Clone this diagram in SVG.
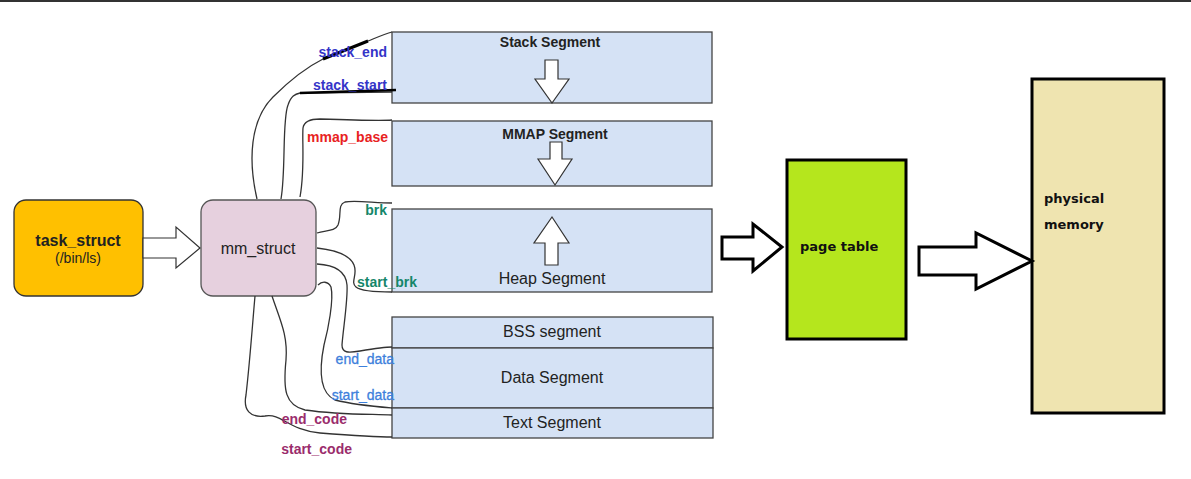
<svg xmlns="http://www.w3.org/2000/svg" width="1191" height="479" viewBox="0 0 1191 479">
<style>
.seg{fill:#d5e2f5;stroke:#444;stroke-width:1.3}
.barrow{fill:#fff;stroke:#333;stroke-width:1.2}
.curve{fill:none;stroke:#333;stroke-width:1.3}
.t{font-family:"Liberation Sans",Arial,sans-serif;fill:#222}
.lbl{font-family:"Liberation Sans",Arial,sans-serif;font-size:14px;text-anchor:end}
.b{font-weight:bold}
.blue{fill:#3434c8}
.red{fill:#e82222}
.teal{fill:#15866a}
.lblue{fill:#3d80dc}
.purple{fill:#9a2c6c}
.bigarrow{fill:#fff;stroke:#000;stroke-width:3}
.v{font-family:"DejaVu Sans",Verdana,sans-serif;font-size:13px;font-weight:bold;fill:#111}
</style>
<rect x="0" y="0" width="1191" height="479" fill="#fff"/>
<line x1="0" y1="1" x2="1191" y2="1" stroke="#333" stroke-width="2"/>

<g id="task_struct">
<rect x="14" y="200" width="129" height="96" rx="12" fill="#ffc000" stroke="#333" stroke-width="1.3"/>
<text class="t b" x="78" y="246" font-size="16" text-anchor="middle">task_struct</text>
<text class="t" x="78" y="263" font-size="14" text-anchor="middle">(/bin/ls)</text>
</g>

<g id="mm_struct">
<rect x="201" y="200" width="115" height="96" rx="12" fill="#e6d0de" stroke="#555" stroke-width="1.3"/>
<text class="t" x="258" y="254" font-size="16" text-anchor="middle">mm_struct</text>
</g>

<g id="stack_segment">
<rect class="seg" x="392" y="32" width="320" height="71"/>
<text class="t b" x="550" y="47" font-size="14" text-anchor="middle">Stack Segment</text>
<polygon class="barrow" points="545,60 558,60 558,79 569,79 552,103 535,79 545,79"/>
</g>

<g id="mmap_segment">
<rect class="seg" x="392" y="121" width="320" height="65"/>
<text class="t b" x="555" y="139" font-size="14" text-anchor="middle">MMAP Segment</text>
<polygon class="barrow" points="550,142 562,142 562,159 572,159 555,185 538,159 550,159"/>
</g>

<g id="heap_segment">
<rect class="seg" x="392" y="209" width="320" height="83"/>
<polygon class="barrow" points="552,217 569,243 558,243 558,265 545,265 545,243 534,243"/>
<text class="t" x="552" y="284" font-size="16" text-anchor="middle">Heap Segment</text>
</g>

<g id="bss_segment">
<rect class="seg" x="392" y="317" width="321" height="31"/>
<text class="t" x="552" y="337" font-size="16" text-anchor="middle">BSS segment</text>
</g>

<g id="data_segment">
<rect class="seg" x="392" y="348" width="321" height="60"/>
<text class="t" x="552" y="383" font-size="16" text-anchor="middle">Data Segment</text>
</g>

<g id="text_segment">
<rect class="seg" x="392" y="408" width="321" height="30"/>
<text class="t" x="552" y="428" font-size="16" text-anchor="middle">Text Segment</text>
</g>

<g id="page_table">
<rect x="787" y="160" width="119" height="179" fill="#b5e61d" stroke="#000" stroke-width="3"/>
<text class="v" x="800" y="251">page table</text>
</g>

<g id="physical_memory">
<rect x="1032" y="79" width="132" height="334" fill="#efe4b0" stroke="#000" stroke-width="3"/>
<text class="v" x="1044" y="203">physical</text>
<text class="v" x="1044" y="229">memory</text>
</g>

<g id="connectors">
<polygon points="143,238 176,238 176,227 200,248 176,268 176,258 143,258" fill="#fff" stroke="#333" stroke-width="1.2"/>
<polygon class="bigarrow" points="722,237 753,237 753,224 782,247 753,271 753,259 722,259"/>
<polygon class="bigarrow" points="919,247 976,247 976,233 1032,261 976,289 976,275 919,275"/>

<path class="curve" d="M257,199 C248,160 250,120 273,97 C290,80 305,68 323,59 L368,41 C378,37 385,34 392,32"/>
<path class="curve" d="M281,199 C286,170 282,120 288,105 C291,96 295,94 300,93 L392,92"/>
<path class="curve" d="M300,197 C305,170 302,140 303,128 C304,121 310,119 320,119 C350,120 380,121 392,120"/>
<path class="curve" d="M317,233 C325,230 335,232 338,225 C342,215 337,205 345,202 C355,200 375,203 392,203"/>
<path class="curve" d="M317,248 C335,250 350,255 354,265 C358,275 350,282 356,287 C362,292 380,292 392,292"/>
<path class="curve" d="M317,264 C335,265 346,272 347,285 C348,300 343,330 342,345 C342,353 348,353 360,351 C372,349 385,347 392,347"/>
<path class="curve" d="M318,285 C322,281 328,281 331,287 C334,300 328,330 324,345 C320,365 318,392 335,400 C355,405 380,407 392,408"/>
<path class="curve" d="M272,296 C280,320 288,335 286,360 C283,390 285,405 305,410 C340,415 370,414 392,415"/>
<path class="curve" d="M255,296 C252,330 250,360 246,395 C243,410 250,418 265,416 C282,413 288,430 320,433 C360,436 380,437 392,437"/>

<line x1="323" y1="59" x2="368" y2="41" stroke="#000" stroke-width="3"/>
<line x1="300" y1="93" x2="396" y2="90" stroke="#000" stroke-width="2.5"/>
</g>

<g id="labels">
<text class="lbl b blue" x="387" y="57">stack_end</text>
<text class="lbl b blue" x="387" y="90">stack_start</text>
<text class="lbl b red" x="388" y="142">mmap_base</text>
<text class="lbl b teal" x="387" y="215">brk</text>
<text class="lbl b teal" x="417" y="287">start_brk</text>
<text class="lbl lblue" x="394" y="364" stroke="#3d80dc" stroke-width="0.3">end_data</text>
<text class="lbl lblue" x="394" y="400" stroke="#3d80dc" stroke-width="0.3">start_data</text>
<text class="lbl b purple" x="347" y="424">end_code</text>
<text class="lbl b purple" x="352" y="454">start_code</text>
</g>
</svg>
